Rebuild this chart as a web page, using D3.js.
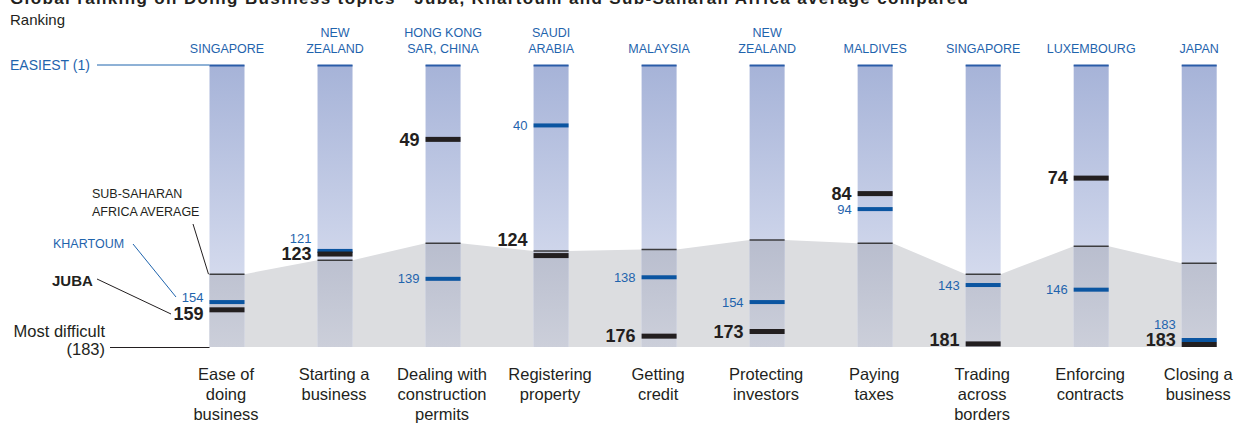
<!DOCTYPE html>
<html>
<head>
<meta charset="utf-8">
<script src="https://cdn.jsdelivr.net/npm/d3@7"></script>
<style>
  body { margin: 0; background: #fff; }
  svg { display: block; font-family: "Liberation Sans", Arial, sans-serif; }
</style>
</head>
<body>
<script>
// Data
var topics = [
    ["Ease of", "doing", "business"],
    ["Starting a", "business"],
    ["Dealing with", "construction", "permits"],
    ["Registering", "property"],
    ["Getting", "credit"],
    ["Protecting", "investors"],
    ["Paying", "taxes"],
    ["Trading", "across", "borders"],
    ["Enforcing", "contracts"],
    ["Closing a", "business"]
];
var bestEconomy = [
    ["SINGAPORE"],
    ["NEW", "ZEALAND"],
    ["HONG KONG", "SAR, CHINA"],
    ["SAUDI", "ARABIA"],
    ["MALAYSIA"],
    ["NEW", "ZEALAND"],
    ["MALDIVES"],
    ["SINGAPORE"],
    ["LUXEMBOURG"],
    ["JAPAN"]
];
var juba     = [159, 123, 49, 124, 176, 173, 84, 181, 74, 183];
var khartoum = [154, 121, 139, 40, 138, 154, 94, 143, 146, 183];
var ssaAvg   = [136, 127, 116, 121, 120, 114, 116, 136, 118, 129];
var rankDomain = [1, 183];

var width = 1234, height = 425;
var barTop = 65, barBottom = 347, barW = 35;

var svg = d3.select("body").append("svg")
    .attr("width", width)
    .attr("height", height);

// gradients for the columns (above / below the regional average)
var defs = svg.append("defs");
var gAbove = defs.append("linearGradient").attr("id", "gAbove")
    .attr("gradientUnits", "userSpaceOnUse")
    .attr("x1", 0).attr("y1", barTop).attr("x2", 0).attr("y2", barBottom);
gAbove.append("stop").attr("offset", "0%").attr("stop-color", "#a6b3d8");
gAbove.append("stop").attr("offset", "100%").attr("stop-color", "#e3e7f4");
var gBelow = defs.append("linearGradient").attr("id", "gBelow")
    .attr("gradientUnits", "userSpaceOnUse")
    .attr("x1", 0).attr("y1", barTop).attr("x2", 0).attr("y2", barBottom);
gBelow.append("stop").attr("offset", "60%").attr("stop-color", "#b7bccd");
gBelow.append("stop").attr("offset", "100%").attr("stop-color", "#cccfda");

// left edge of each column
var x = d3.scaleLinear().domain([0, topics.length - 1]).range([209.5, 1181.7]);
var y = d3.scaleLinear().domain(rankDomain).range([barTop, barBottom]);

// title (cut at the top edge, as in the original)
svg.append("text")
    .attr("x", 10).attr("y", 4)
    .attr("font-weight", "bold")
    .attr("font-size", 17)
    .attr("textLength", 958)
    .attr("fill", "#231f20")
    .text("Global ranking on Doing Business topics\u2014Juba, Khartoum and Sub-Saharan Africa average compared");

svg.append("text")
    .attr("x", 10).attr("y", 25)
    .attr("font-size", 15)
    .attr("fill", "#231f20")
    .text("Ranking");

// gray area: sub-saharan average
var areaPts = [];
ssaAvg.forEach(function(v, i){
    areaPts.push([x(i), y(v)]);
    areaPts.push([x(i) + barW, y(v)]);
});
var area = d3.area()
    .x(function(d){ return d[0]; })
    .y0(barBottom)
    .y1(function(d){ return d[1]; });
svg.append("path")
    .attr("d", area(areaPts))
    .attr("fill", "#dcdde0");

var cols = svg.selectAll(".col")
    .data(topics)
    .enter()
    .append("g")
    .attr("class", "col");

cols.append("rect")
    .attr("x", function(d, i){ return x(i); })
    .attr("y", barTop)
    .attr("width", barW)
    .attr("height", barBottom - barTop)
    .attr("fill", "url(#gAbove)");

cols.append("rect")
    .attr("x", function(d, i){ return x(i); })
    .attr("y", function(d, i){ return y(ssaAvg[i]); })
    .attr("width", barW)
    .attr("height", function(d, i){ return barBottom - y(ssaAvg[i]); })
    .attr("fill", "url(#gBelow)");

// top cap
cols.append("line")
    .attr("x1", function(d, i){ return x(i); })
    .attr("x2", function(d, i){ return x(i) + barW; })
    .attr("y1", barTop + 0.5).attr("y2", barTop + 0.5)
    .attr("stroke", "#2a5ca8")
    .attr("stroke-width", 2);

// average line
cols.append("line")
    .attr("x1", function(d, i){ return x(i); })
    .attr("x2", function(d, i){ return x(i) + barW; })
    .attr("y1", function(d, i){ return y(ssaAvg[i]); })
    .attr("y2", function(d, i){ return y(ssaAvg[i]); })
    .attr("stroke", "#3d3d3f")
    .attr("stroke-width", 1.5);

// markers
var jubaH = 5, khH = 4;
function jubaY(i){ return Math.min(y(juba[i]), barBottom - jubaH / 2); }
function khY(i){
    var ky = Math.min(y(khartoum[i]), barBottom - khH / 2);
    if (Math.abs(ky - jubaY(i)) < (jubaH + khH) / 2 && khartoum[i] >= juba[i]) {
        ky = jubaY(i) - (jubaH + khH) / 2;
    }
    return ky;
}
cols.append("rect")
    .attr("x", function(d, i){ return x(i); })
    .attr("y", function(d, i){ return khY(i) - khH / 2; })
    .attr("width", barW)
    .attr("height", khH)
    .attr("fill", "#0b55a1");
cols.append("rect")
    .attr("x", function(d, i){ return x(i); })
    .attr("y", function(d, i){ return jubaY(i) - jubaH / 2; })
    .attr("width", barW)
    .attr("height", jubaH)
    .attr("fill", "#231f20");

// value labels, pushed apart when they would collide
var labelGap = 16, labelMax = 340;
var jubaShift = {0: 4, 3: -16};
cols.each(function(d, i){
    var g = d3.select(this);
    var jy = Math.min(y(juba[i]), labelMax) + (jubaShift[i] || 0);
    var ky = y(khartoum[i]);
    if (Math.abs(ky - jy) < labelGap) {
        ky = khartoum[i] <= juba[i] ? jy - labelGap : jy + labelGap;
    }
    g.append("text")
        .attr("x", x(i) - 6)
        .attr("y", jy)
        .attr("dy", "0.35em")
        .attr("text-anchor", "end")
        .attr("font-weight", "bold")
        .attr("font-size", 18)
        .attr("fill", "#231f20")
        .text(juba[i]);
    g.append("text")
        .attr("x", x(i) - 6)
        .attr("y", ky)
        .attr("dy", "0.35em")
        .attr("text-anchor", "end")
        .attr("font-size", 13)
        .attr("fill", "#1f64ad")
        .text(khartoum[i]);
});

// best economy names on top
cols.each(function(d, i){
    var lines = bestEconomy[i];
    d3.select(this).selectAll(".best")
        .data(lines)
        .enter()
        .append("text")
        .attr("class", "best")
        .attr("x", x(i) + barW / 2)
        .attr("y", function(t, k){ return 53 - (lines.length - 1 - k) * 16; })
        .attr("text-anchor", "middle")
        .attr("font-size", 12.5)
        .attr("fill", "#1f64ad")
        .text(function(t){ return t; });
});

// topic names at bottom
cols.each(function(d, i){
    d3.select(this).selectAll(".topic")
        .data(d)
        .enter()
        .append("text")
        .attr("class", "topic")
        .attr("x", x(i) + barW / 2 - 1)
        .attr("y", function(t, k){ return 380 + k * 20; })
        .attr("text-anchor", "middle")
        .attr("font-size", 16.5)
        .attr("fill", "#231f20")
        .text(function(t){ return t; });
});

// left-hand annotations
var ann = svg.append("g");
ann.append("text").attr("x", 10).attr("y", 70)
    .attr("font-size", 14).attr("fill", "#1f64ad").text("EASIEST (1)");
ann.append("line").attr("x1", 97).attr("x2", x(0)).attr("y1", barTop).attr("y2", barTop)
    .attr("stroke", "#1f64ad").attr("stroke-width", 1);

ann.append("text").attr("x", 92).attr("y", 198)
    .attr("font-size", 12.5).attr("fill", "#231f20").text("SUB-SAHARAN");
ann.append("text").attr("x", 92).attr("y", 216)
    .attr("font-size", 12.5).attr("fill", "#231f20").text("AFRICA AVERAGE");
ann.append("line").attr("x1", 193).attr("y1", 224).attr("x2", x(0) - 1).attr("y2", y(ssaAvg[0]))
    .attr("stroke", "#231f20").attr("stroke-width", 1);

ann.append("text").attr("x", 53).attr("y", 248)
    .attr("font-size", 12.5).attr("fill", "#1f64ad").text("KHARTOUM");
ann.append("line").attr("x1", 133).attr("y1", 244).attr("x2", 176).attr("y2", 297)
    .attr("stroke", "#1f64ad").attr("stroke-width", 1);

ann.append("text").attr("x", 52).attr("y", 286)
    .attr("font-size", 15).attr("font-weight", "bold").attr("fill", "#231f20").text("JUBA");
ann.append("line").attr("x1", 97).attr("y1", 279).attr("x2", 171).attr("y2", 314)
    .attr("stroke", "#231f20").attr("stroke-width", 1);

ann.append("text").attr("x", 105).attr("y", 337).attr("text-anchor", "end")
    .attr("font-size", 16.5).attr("fill", "#231f20").text("Most difficult");
ann.append("text").attr("x", 105).attr("y", 355).attr("text-anchor", "end")
    .attr("font-size", 16.5).attr("fill", "#231f20").text("(183)");
ann.append("line").attr("x1", 110).attr("x2", x(0)).attr("y1", barBottom + 0.5).attr("y2", barBottom + 0.5)
    .attr("stroke", "#231f20").attr("stroke-width", 1);
</script>
</body>
</html>
